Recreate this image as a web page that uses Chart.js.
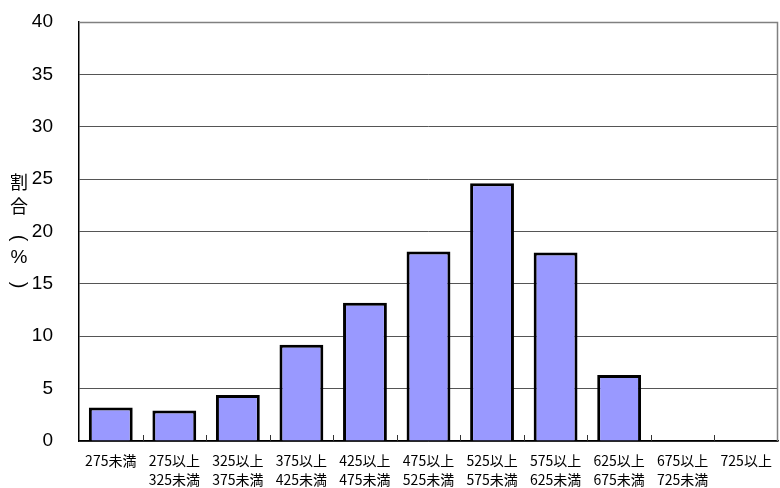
<!DOCTYPE html>
<html><head><meta charset="utf-8">
<script src="https://cdn.jsdelivr.net/npm/chart.js@4"></script>
<style>html,body{margin:0;padding:0;background:#fff}#w{width:780px;height:488px}</style>
</head><body><div id="w"><canvas id="c" width="780" height="488"></canvas></div>
<script>
const categories = [
  ["275未満",""],["275以上","325未満"],["325以上","375未満"],["375以上","425未満"],
  ["425以上","475未満"],["475以上","525未満"],["525以上","575未満"],["575以上","625未満"],
  ["625以上","675未満"],["675以上","725未満"],["725以上",""]
];
const values = [3.2, 2.9, 4.4, 9.2, 13.2, 18.1, 24.6, 18.0, 6.3, 0, 0];
const yTicks = [0,5,10,15,20,25,30,35,40];
const yTitle = ["割","合","(","%",")"];

const decor = {
  id:'decor',
  beforeDatasetsDraw(chart){
    const {ctx, chartArea:a, scales:{x}} = chart;
    ctx.save();
    ctx.strokeStyle='#808080'; ctx.lineWidth=1.5;
    ctx.beginPath();
    ctx.moveTo(a.left,a.top+0.5); ctx.lineTo(a.right-0.5,a.top+0.5); ctx.lineTo(a.right-0.5,a.bottom);
    ctx.stroke();
    ctx.strokeStyle='#333'; ctx.lineWidth=1;
    const n = categories.length;
    for(let i=1;i<n;i++){
      const px = Math.round((x.getPixelForValue(i-1)+x.getPixelForValue(i))/2)+0.5;
      ctx.beginPath(); ctx.moveTo(px,a.bottom); ctx.lineTo(px,a.bottom-6); ctx.stroke();
    }
    ctx.restore();
  },
  afterDraw(chart){
    const ctx = chart.ctx;
    ctx.save();
    ctx.fillStyle='#000';
    ctx.textAlign='center'; ctx.textBaseline='middle';
    const ys=[182,206,238,258,285];
    yTitle.forEach((ch,i)=>{
      if(ch==='('||ch===')'){
        ctx.save();
        ctx.translate(19,ys[i]); ctx.rotate(Math.PI/2);
        ctx.font='20px "Liberation Sans", Arial';
        ctx.fillText(ch,0,0);
        ctx.restore();
      } else {
        ctx.font=(ch==='%'?'19px "Liberation Sans", Arial':'18px "Noto Sans CJK JP"');
        ctx.fillText(ch,19,ys[i]);
      }
    });
    ctx.restore();
  }
};

new Chart(document.getElementById('c'),{
  type:'bar',
  data:{labels:categories,datasets:[{data:values,backgroundColor:'#9999FF',borderColor:'#000',borderWidth:3,barPercentage:0.69,categoryPercentage:1}]},
  options:{
    responsive:false,animation:false,
    layout:{padding:{top:22,right:2,left:0,bottom:0}},
    plugins:{legend:{display:false},tooltip:{enabled:false}},
    scales:{
      x:{
        grid:{display:false},
        border:{display:true,color:'#000',width:1.5},
        ticks:{color:'#000',font:{family:'"Noto Sans CJK JP"',size:14,lineHeight:1.3},padding:3,maxRotation:0,autoSkip:false},
        afterFit(s){s.height=47;s.paddingLeft=0;s.paddingRight=0;}
      },
      y:{
        min:0,max:40,
        afterBuildTicks(s){s.ticks=yTicks.map(v=>({value:v}));},
        grid:{color:'#555',lineWidth:1,drawTicks:false},
        border:{display:true,color:'#000',width:1.5},
        ticks:{color:'#000',font:{family:'"Liberation Sans", Arial',size:19},padding:26},
        afterFit(s){s.width=79;s.paddingTop=0;s.paddingBottom=0;}
      }
    }
  },
  plugins:[decor]
});
</script></body></html>
